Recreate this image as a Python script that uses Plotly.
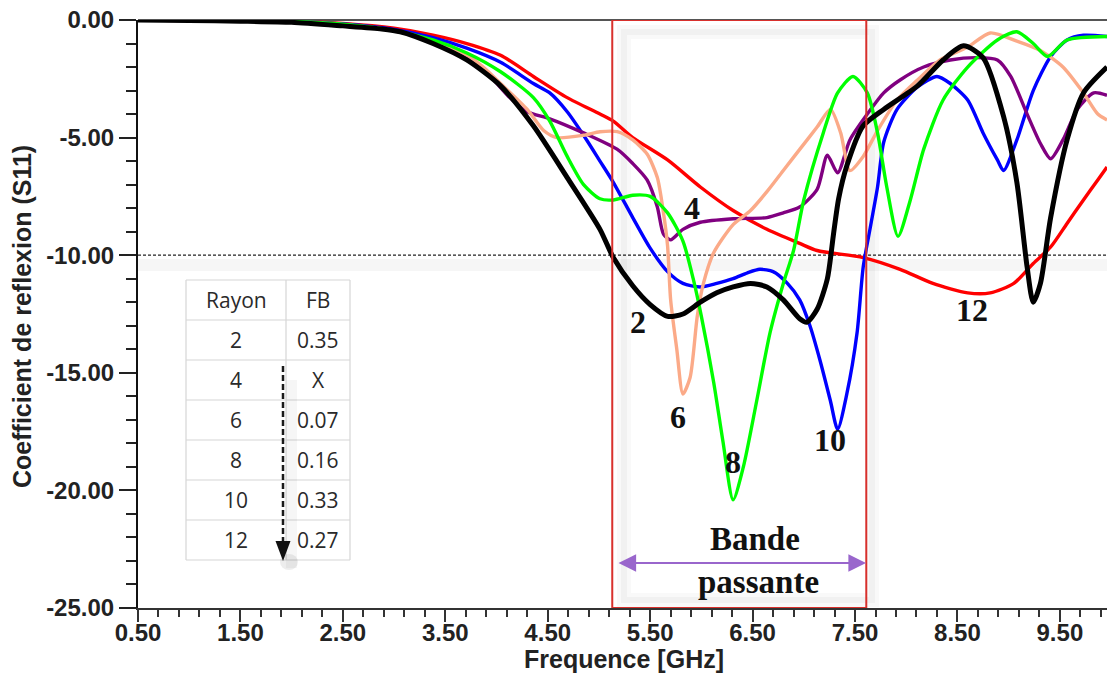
import plotly.graph_objects as go

# ---------------- data ----------------
freq_2 = [0.5, 1.0, 1.5, 2.0, 2.5, 2.88, 3.06, 3.38, 3.71, 4.04, 4.36, 4.69, 5.01, 5.14, 5.33, 5.5, 5.67,
          5.82, 5.99, 6.15, 6.31, 6.48, 6.64, 6.80, 6.96, 7.03, 7.13, 7.23, 7.29, 7.34, 7.42, 7.58, 7.78,
          8.11, 8.36, 8.56, 8.75, 8.95, 9.08, 9.18, 9.24, 9.31, 9.41, 9.57, 9.73, 9.96]
s11_2 = [0.0, -0.02, -0.05, -0.1, -0.25, -0.38, -0.5, -1.0, -1.7, -2.8, -4.5, -6.7, -8.9, -10.1, -11.3, -12.1,
         -12.6, -12.5, -12.0, -11.6, -11.35, -11.2, -11.35, -11.9, -12.7, -12.85, -12.3, -11.0, -9.1, -7.6,
         -6.2, -4.5, -3.8, -2.8, -1.7, -1.1, -1.6, -4.1, -6.9, -10.5, -12.0, -11.2, -8.4, -5.1, -3.1, -2.0]

freq_4 = [0.5, 1.5, 2.0, 2.5, 3.0, 3.38, 3.71, 3.94, 4.13, 4.30, 4.52, 4.85, 5.18, 5.33, 5.47, 5.57, 5.63,
          5.70, 5.82, 5.99, 6.31, 6.64, 6.80, 6.96, 7.13, 7.23, 7.33, 7.45, 7.62, 7.78, 7.94, 8.17, 8.43,
          8.69, 8.89, 9.02, 9.18, 9.31, 9.41, 9.53, 9.67, 9.83, 9.96]
s11_4 = [0.0, -0.04, -0.1, -0.22, -0.45, -0.95, -1.6, -2.4, -3.3, -3.9, -4.2, -4.8, -5.5, -6.1, -6.8, -7.95,
         -9.1, -9.35, -8.9, -8.6, -8.45, -8.4, -8.2, -7.95, -7.2, -5.75, -6.5, -5.1, -4.0, -3.1, -2.55, -2.0,
         -1.7, -1.6, -1.7, -2.4, -4.0, -5.25, -5.9, -5.1, -3.8, -3.1, -3.2]

freq_6 = [0.5, 1.5, 2.0, 2.5, 3.0, 3.38, 3.71, 3.87, 4.04, 4.30, 4.46, 4.59, 4.85, 5.01, 5.18, 5.33, 5.47,
          5.57, 5.63, 5.67, 5.70, 5.76, 5.82, 5.89, 5.96, 6.02, 6.12, 6.31, 6.48, 6.64, 6.80, 6.96, 7.13,
          7.26, 7.36, 7.45, 7.58, 7.72, 7.91, 8.11, 8.33, 8.60, 8.82, 9.08, 9.31, 9.53, 9.73, 9.87, 9.96]
s11_6 = [0.0, -0.04, -0.08, -0.2, -0.45, -0.9, -1.5, -2.0, -2.7, -3.8, -4.7, -5.0, -4.9, -4.75, -4.75, -5.1,
         -5.7, -6.7, -8.2, -9.6, -11.9, -14.0, -15.9, -15.2, -12.6, -11.2, -9.9, -8.7, -8.1, -7.3, -6.4,
         -5.5, -4.55, -3.8, -4.8, -6.4, -5.8, -4.7, -3.4, -2.55, -1.7, -1.15, -0.55, -0.9, -1.3, -2.0, -3.1,
         -4.0, -4.25]

freq_8 = [0.5, 1.5, 2.0, 2.5, 3.0, 3.38, 3.71, 4.04, 4.36, 4.52, 4.69, 4.85, 5.01, 5.14, 5.33, 5.5, 5.67,
          5.82, 5.92, 6.0, 6.12, 6.21, 6.31, 6.41, 6.54, 6.67, 6.80, 6.90, 7.0, 7.19, 7.33, 7.48, 7.62,
          7.72, 7.81, 7.92, 8.04, 8.17, 8.36, 8.60, 8.89, 9.08, 9.24, 9.38, 9.57, 9.96]
s11_8 = [0.0, -0.03, -0.06, -0.18, -0.45, -0.85, -1.4, -2.2, -3.3, -4.3, -5.8, -7.0, -7.6, -7.65, -7.45,
         -7.5, -8.2, -9.4, -11.0, -12.6, -15.4, -17.9, -20.4, -19.0, -16.2, -13.3, -11.2, -9.8, -7.65, -4.8,
         -3.1, -2.4, -3.1, -4.8, -7.1, -9.2, -7.65, -5.5, -3.4, -2.0, -0.85, -0.5, -1.0, -1.55, -0.85, -0.7]

freq_10 = [0.5, 1.5, 2.0, 2.5, 3.0, 3.38, 3.71, 4.04, 4.36, 4.52, 4.69, 4.88, 5.01, 5.14, 5.33, 5.5, 5.67,
           5.82, 5.99, 6.15, 6.31, 6.45, 6.57, 6.70, 6.84, 6.96, 7.06, 7.16, 7.26, 7.33, 7.42, 7.52, 7.58,
           7.65, 7.72, 7.78, 7.91, 8.11, 8.30, 8.43, 8.60, 8.75, 8.89, 8.95, 9.08, 9.24, 9.41, 9.57, 9.73,
           9.96]
s11_10 = [0.0, -0.03, -0.06, -0.17, -0.4, -0.75, -1.2, -1.8, -2.7, -3.1, -3.9, -5.1, -6.0, -6.9, -8.4, -9.7,
          -10.7, -11.2, -11.35, -11.2, -11.0, -10.75, -10.6, -10.7, -11.2, -11.9, -13.0, -14.5, -16.2, -17.4,
          -15.9, -13.3, -10.5, -8.8, -7.1, -5.2, -3.8, -2.85, -2.4, -2.7, -3.4, -4.8, -5.95, -6.4, -5.1,
          -3.0, -1.55, -0.85, -0.65, -0.7]

freq_12 = [0.5, 1.5, 2.0, 2.5, 3.0, 3.38, 3.71, 4.04, 4.36, 4.69, 5.01, 5.14, 5.33, 5.67, 5.99, 6.31, 6.64,
           6.96, 7.13, 7.58, 7.94, 8.26, 8.60, 8.82, 9.05, 9.24, 9.41, 9.57, 9.73, 9.87, 9.96]
s11_12 = [0.0, -0.02, -0.05, -0.15, -0.35, -0.64, -1.0, -1.5, -2.4, -3.3, -4.0, -4.3, -5.0, -5.95, -7.1,
          -8.1, -8.9, -9.5, -9.8, -10.1, -10.6, -11.2, -11.6, -11.6, -11.2, -10.35, -9.65, -8.65, -7.65,
          -6.8, -6.25]

curve_names = ["12", "10", "4", "6", "8", "2"]
curve_colors = ["#FF0000", "#0000FF", "#800080", "#FBAA88", "#00FF00", "#000000"]

# curve number labels (text centre positions, GHz / dB)
label_text = ["2", "4", "6", "8", "10", "12"]
label_x = [5.38, 5.91, 5.77, 6.31, 7.26, 8.64]
label_y = [-12.84, -8.0, -16.88, -18.8, -17.86, -12.33]

# band limits of the passband box
band_lo, band_hi = 5.13, 7.61
threshold = -10.0

# table
table_header = ["Rayon", "FB"]
table_rayon = ["2", "4", "6", "8", "10", "12"]
table_fb = ["0.35", "X", "0.07", "0.16", "0.33", "0.27"]

x_ticks = [0.5, 1.5, 2.5, 3.5, 4.5, 5.5, 6.5, 7.5, 8.5, 9.5]
y_ticks = [0, -5, -10, -15, -20, -25]

# ---------------- geometry ----------------
W, H = 1107, 673
ML, MR, MT, MB = 138, 0, 20, 65
X0, X1 = 0.5, 9.96
Y0, Y1 = -25.0, 0.0
PW, PH = W - ML - MR, H - MT - MB


def px2x(px):
    return X0 + (px - ML) / PW * (X1 - X0)


def py2y(py):
    return Y1 - (py - MT) / PH * (Y1 - Y0)


def px2paper(px):
    return (px - ML) / PW


def py2paper(py):
    return (H - MB - py) / PH


series = {
    "12": (freq_12, s11_12),
    "10": (freq_10, s11_10),
    "4": (freq_4, s11_4),
    "6": (freq_6, s11_6),
    "8": (freq_8, s11_8),
    "2": (freq_2, s11_2),
}

fig = go.Figure()

shapes = []
# soft shadows
shapes.append(dict(type="rect", xref="x", yref="y", x0=px2x(624), x1=px2x(872), y0=py2y(32), y1=py2y(600),
                   line=dict(color="rgba(0,0,0,0.025)", width=14), fillcolor="rgba(0,0,0,0)", layer="below"))
shapes.append(dict(type="rect", xref="x", yref="y", x0=px2x(624), x1=px2x(872), y0=py2y(32), y1=py2y(600),
                   line=dict(color="rgba(0,0,0,0.03)", width=6), fillcolor="rgba(0,0,0,0)", layer="below"))
shapes.append(dict(type="rect", xref="paper", yref="y", x0=0, x1=1, y0=py2y(259), y1=py2y(271),
                   line=dict(width=0), fillcolor="rgba(0,0,0,0.035)", layer="below"))
# top border
shapes.append(dict(type="line", xref="paper", yref="paper", x0=0, x1=1, y0=1, y1=1,
                   line=dict(color="#555555", width=2), layer="below"))
# threshold dashed line
shapes.append(dict(type="line", xref="paper", yref="y", x0=0, x1=1, y0=threshold, y1=threshold,
                   line=dict(color="#222222", width=1.3, dash="3px,2px"), layer="below"))

fig.update_layout(shapes=shapes)

for name, color in zip(curve_names, curve_colors):
    fx, fy = series[name]
    fig.add_trace(go.Scatter(
        x=fx, y=fy, mode="lines", name=name, showlegend=False, hoverinfo="skip",
        cliponaxis=False,
        line=dict(color=color, width=5 if name == "2" else 3.4, shape="spline", smoothing=0.7),
    ))

# passband box (on top)
fig.add_shape(type="rect", xref="x", yref="y", x0=band_lo, x1=band_hi, y0=Y0, y1=Y1,
              line=dict(color="#D8302C", width=2), fillcolor="rgba(0,0,0,0)", layer="above")

# ---------------- table ----------------
t_left, t_mid, t_right = 186, 286, 350
t_top, row_h = 280, 40
n_rows = len(table_rayon) + 1
grid = "#D6D6D6"
for i in range(n_rows + 1):
    yy = py2y(t_top + i * row_h)
    fig.add_shape(type="line", xref="x", yref="y", x0=px2x(t_left), x1=px2x(t_right), y0=yy, y1=yy,
                  line=dict(color=grid, width=1.2))
for xp in (t_left, t_mid, t_right):
    fig.add_shape(type="line", xref="x", yref="y", x0=px2x(xp), x1=px2x(xp),
                  y0=py2y(t_top), y1=py2y(t_top + n_rows * row_h), line=dict(color=grid, width=1.2))

cells = [table_header] + [[r, f] for r, f in zip(table_rayon, table_fb)]
for i, (c1, c2) in enumerate(cells):
    yc = py2y(t_top + (i + 0.5) * row_h)
    for txt, xc in ((c1, (t_left + t_mid) / 2), (c2, (t_mid + t_right) / 2)):
        fig.add_annotation(x=px2x(xc), y=yc, text=txt, showarrow=False, xref="x", yref="y",
                           font=dict(family="Open Sans, Lato, sans-serif", size=21, color="#2a2a2a"))

# dashed down arrow inside table, with shadow
fig.add_shape(type="rect", xref="x", yref="y", x0=px2x(286), x1=px2x(297), y0=py2y(380), y1=py2y(568),
              line=dict(width=0), fillcolor="rgba(0,0,0,0.035)")
fig.add_shape(type="circle", xref="x", yref="y", x0=px2x(280), x1=px2x(298), y0=py2y(554), y1=py2y(570),
              line=dict(width=0), fillcolor="rgba(0,0,0,0.07)")
fig.add_shape(type="line", xref="x", yref="y", x0=px2x(283), x1=px2x(283), y0=py2y(366), y1=py2y(545),
              line=dict(color="#1a1a1a", width=2.5, dash="6px,3px"))
fig.add_shape(type="path", xref="x", yref="y",
              path=f"M {px2x(275.5)} {py2y(541)} L {px2x(290.5)} {py2y(541)} L {px2x(283)} {py2y(561)} Z",
              line=dict(width=0), fillcolor="#111111")

# ---------------- curve labels ----------------
for t, lx, ly in zip(label_text, label_x, label_y):
    fig.add_annotation(x=lx, y=ly, text=t, showarrow=False, xref="x", yref="y",
                       font=dict(family="Liberation Serif, Times New Roman, serif", size=32,
                                 color="#111111", weight="bold"))

# Bande passante
arrow_y = py2y(563)
fig.add_annotation(x=px2x(866), y=arrow_y, ax=px2x(617), ay=arrow_y, xref="x", yref="y",
                   axref="x", ayref="y", text="", showarrow=True, arrowhead=2, startarrowhead=2,
                   arrowside="end+start", arrowcolor="#9966CC", arrowwidth=2.2, arrowsize=1.6,
                   startarrowsize=1.6)
fig.add_annotation(x=px2x(755), y=py2y(539), text="Bande", showarrow=False, xref="x", yref="y",
                   font=dict(family="Liberation Serif, Times New Roman, serif", size=33,
                             color="#111111", weight="bold"))
fig.add_annotation(x=px2x(758), y=py2y(582), text="passante", showarrow=False, xref="x", yref="y",
                   font=dict(family="Liberation Serif, Times New Roman, serif", size=33,
                             color="#111111", weight="bold"))

# axis titles
title_font = dict(family="Liberation Sans, Arial, sans-serif", size=25, color="#222222", weight="bold")
fig.add_annotation(text="Frequence [GHz]", xref="paper", yref="paper", x=px2paper(624), y=py2paper(659),
                   showarrow=False, font=title_font, xanchor="center", yanchor="middle")
fig.add_annotation(text="Coefficient de reflexion (S11)", xref="paper", yref="paper", x=px2paper(22),
                   y=py2paper(317), showarrow=False, font=title_font, textangle=-90,
                   xanchor="center", yanchor="middle")

# ---------------- axes ----------------
tick_font = dict(family="Liberation Sans, Arial, sans-serif", color="#222222", weight="bold")
fig.update_xaxes(
    range=[X0, X1], showgrid=False, zeroline=False,
    showline=True, linecolor="#333333", linewidth=2,
    tickmode="array", tickvals=x_ticks, ticktext=[f"{v:.2f}" for v in x_ticks],
    ticks="outside", ticklen=12, tickwidth=2, tickcolor="#333333",
    minor=dict(ticks="outside", ticklen=7, tickwidth=1.5, tickcolor="#333333", dtick=0.2, tick0=0.5,
               showgrid=False),
    tickfont=dict(size=24, **tick_font),
    ticklabelstandoff=-10,
)
fig.update_yaxes(
    range=[Y0, Y1], showgrid=False, zeroline=False,
    showline=True, linecolor="#111111", linewidth=2,
    tickmode="array", tickvals=y_ticks, ticktext=[f"{v:.2f}" for v in y_ticks],
    ticks="outside", ticklen=17, tickwidth=2, tickcolor="#222222",
    minor=dict(ticks="outside", ticklen=10, tickwidth=1.5, tickcolor="#222222", dtick=1, tick0=0,
               showgrid=False),
    tickfont=dict(size=24, **tick_font),
)

fig.update_layout(
    width=W, height=H,
    margin=dict(l=ML, r=MR, t=MT, b=MB, autoexpand=False),
    plot_bgcolor="white", paper_bgcolor="white",
    showlegend=False,
)

fig.write_html("out.html", config={"displayModeBar": False},
               post_script="document.body.style.margin='0';document.body.style.padding='0';")
